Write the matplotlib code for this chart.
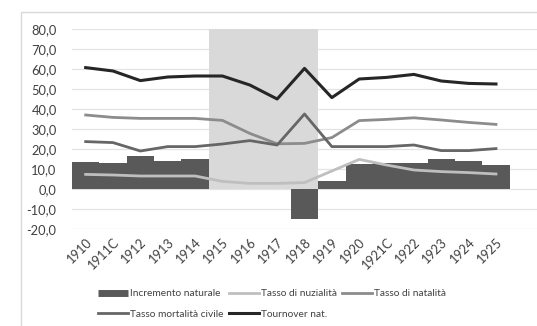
import numpy as np
import matplotlib
matplotlib.use("Agg")
import matplotlib.pyplot as plt
from matplotlib.patches import Rectangle
from matplotlib.lines import Line2D
from matplotlib.ticker import FuncFormatter, MultipleLocator

plt.rcParams['font.family'] = ['Lato', 'DejaVu Sans']

years = ["1910", "1911C", "1912", "1913", "1914", "1915", "1916", "1917",
         "1918", "1919", "1920", "1921C", "1922", "1923", "1924", "1925"]
incremento = [13.7, 12.8, 16.5, 14.2, 14.8, 11.7, 3.6, 0.8,
              -15.0, 4.2, 12.5, 12.8, 12.8, 15.0, 14.0, 12.0]
nuzialita = [7.3, 7.0, 6.5, 6.5, 6.5, 3.8, 2.8, 2.8,
             3.2, 9.0, 14.8, 12.0, 9.5, 8.7, 8.2, 7.5]
natalita = [37.0, 35.8, 35.3, 35.3, 35.3, 34.3, 27.8, 22.6,
            22.8, 25.7, 34.2, 34.8, 35.6, 34.5, 33.3, 32.3]
mortalita = [23.7, 23.2, 19.0, 21.2, 21.2, 22.5, 24.2, 22.0,
             37.5, 21.2, 21.2, 21.2, 22.0, 19.2, 19.2, 20.2]
tournover = [60.7, 59.0, 54.2, 56.0, 56.5, 56.5, 52.0, 45.0,
             60.3, 45.7, 55.0, 55.8, 57.3, 54.0, 52.8, 52.5]
# war years highlighted with a background band
guerra = [np.nan] * 5 + [80.0] * 4 + [np.nan] * 7

x = np.arange(len(years))
txt = "#404040"

fig = plt.figure(figsize=(5.37, 3.26), dpi=100)
fig.patch.set_facecolor("white")

# chart-area frame
fig.patches.append(Rectangle((21 / 537, -0.05), 1.2, 1 - 12 / 326 + 0.05,
                             transform=fig.transFigure, fill=False,
                             edgecolor="#d9d9d9", linewidth=1.0, zorder=0))

ax = fig.add_axes([72 / 537, 97 / 326, 465 / 537, 200 / 326])
ax.set_facecolor("none")

ax.bar(x, incremento, width=1.0, color="#595959", zorder=2,
       label="Incremento naturale")
ax.bar(x, guerra, width=1.0, color="#d9d9d9", zorder=3)

ax.plot(x, nuzialita, color="#bfbfbf", lw=2.0, zorder=4, label="Tasso di nuzialità")
ax.plot(x, natalita, color="#8c8c8c", lw=2.0, zorder=4, label="Tasso di natalità")
ax.plot(x, mortalita, color="#666666", lw=2.0, zorder=4, label="Tasso mortalità civile")
ax.plot(x, tournover, color="#262626", lw=2.2, zorder=4, label="Tournover nat.")

ax.set_xlim(-0.5, len(years) + 0.5)
ax.set_ylim(-20, 80)
ax.yaxis.set_major_locator(MultipleLocator(10))
ax.yaxis.set_major_formatter(FuncFormatter(lambda v, p: f"{v:.1f}".replace(".", ",")))
ax.grid(axis="y", color="#e3e3e3", linewidth=0.9, zorder=0)
ax.set_axisbelow(True)
for s in ax.spines.values():
    s.set_visible(False)
ax.tick_params(axis="both", length=0, colors=txt, labelsize=9.3)
ax.tick_params(axis="y", pad=11)
ax.set_xticks(x)
ax.set_xticklabels(years, rotation=45, ha="right", va="top", rotation_mode="anchor")
ax.tick_params(axis="x", pad=5)

h, l = ax.get_legend_handles_labels()
names = dict(zip(l, h))
order = ["Incremento naturale", "Tasso mortalità civile", "Tasso di nuzialità",
         "Tournover nat.", "Tasso di natalità"]
handles = []
for n in order:
    if n == "Incremento naturale":
        handles.append(Line2D([], [], color="#595959", lw=5, solid_capstyle="butt"))
    else:
        handles.append(names[n])
leg = fig.legend(handles, order, ncol=3, loc="center",
                 bbox_to_anchor=(272 / 537, 1 - 304 / 326), frameon=False,
                 fontsize=7.3, handlelength=3.0, handletextpad=0.2,
                 columnspacing=0.5, labelspacing=1.15, labelcolor=txt)

fig.savefig("out.png", dpi=100, facecolor="white")
